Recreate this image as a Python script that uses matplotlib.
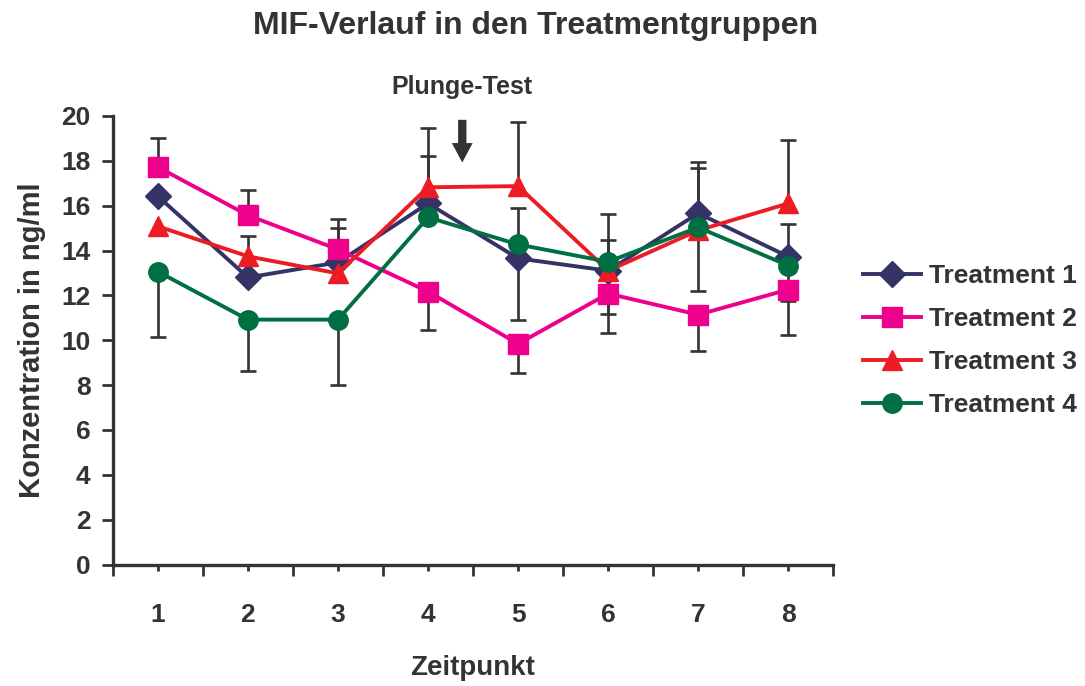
import numpy as np
from matplotlib import pyplot as plt

# MIF-Verlauf, Mittelwerte und Fehlerbalken
ZEITPUNKTE = [1, 2, 3, 4, 5, 6, 7, 8]
NAMEN = ["Treatment 1", "Treatment 2", "Treatment 3", "Treatment 4"]

T1 = [16.42, 12.8, 13.47, 16.1, 13.65, 13.1, 15.66, 13.73]
T2 = [17.72, 15.57, 14.05, 12.17, 9.84, 12.08, 11.14, 12.26]
T3 = [15.08, 13.74, 12.98, 16.82, 16.87, 13.1, 14.9, 16.1]
T4 = [13.06, 10.92, 10.92, 15.48, 14.27, 13.5, 15.03, 13.33]

# Fehler nach oben / unten (0 = kein Balken sichtbar)
T1_OBEN = [0, 1.83, 1.52, 2.11, 0, 1.35, 2.28, 1.44]
T1_UNTEN = [0, 0, 0, 0, 2.73, 1.93, 0, 1.96]
T2_OBEN = [1.3, 1.12, 1.34, 0, 0, 0, 0, 0]
T2_UNTEN = [0, 0, 0, 1.7, 1.29, 1.74, 1.61, 2.01]
T3_OBEN = [0, 0, 0, 2.64, 2.86, 2.52, 2.77, 2.83]
T3_UNTEN = [0, 0, 0, 0, 0, 0, 2.69, 0]
T4_OBEN = [0, 0, 0, 0, 1.61, 0, 0, 0]
T4_UNTEN = [2.9, 2.28, 2.91, 0, 0, 0, 0, 0]

FARBEN = ["#333366", "#EC008C", "#ED1C24", "#006F41"]
MARKER = ["D", "s", "^", "o"]
MSIZE = [13, 14, 14, 14]

TEXT = "#333333"


def fehlerbalken(ax, x, y, oben, unten):
    x = np.array(x, dtype=float)
    y = np.array(y, dtype=float)
    oben = np.array(oben, dtype=float)
    unten = np.array(unten, dtype=float)
    m = (oben > 0) | (unten > 0)
    ax.vlines(x[m], (y - unten)[m], (y + oben)[m], color="#333333", lw=1.9, zorder=2)
    o = oben > 0
    ax.plot(x[o], (y + oben)[o], ls="none", marker="_", ms=11, mew=1.9, color="#333333", zorder=2)
    u = unten > 0
    ax.plot(x[u], (y - unten)[u], ls="none", marker="_", ms=11, mew=1.9, color="#333333", zorder=2)


def plot():
    plt.rcParams["font.family"] = ["Liberation Sans", "DejaVu Sans"]
    plt.rcParams["font.weight"] = "bold"

    fig = plt.figure(figsize=(10.85, 6.86), dpi=100)
    ax = fig.add_axes([0.104, 0.177, 0.664, 0.654])

    reihen = [T1, T2, T3, T4]
    oben = [T1_OBEN, T2_OBEN, T3_OBEN, T4_OBEN]
    unten = [T1_UNTEN, T2_UNTEN, T3_UNTEN, T4_UNTEN]

    for i in range(4):
        fehlerbalken(ax, ZEITPUNKTE, reihen[i], oben[i], unten[i])

    for i in range(4):
        ax.plot(ZEITPUNKTE, reihen[i], color=FARBEN[i], lw=2.8, marker=MARKER[i],
                ms=MSIZE[i], mec=FARBEN[i], mfc=FARBEN[i], label=NAMEN[i], zorder=3 + i)

    ax.set_xlim(0.5, 8.5)
    ax.set_ylim(0, 20)
    ax.set_yticks(np.arange(0, 21, 2))
    ax.set_xticks(np.arange(0.5, 9, 1))
    ax.set_xticklabels([])
    ax.set_xticks(ZEITPUNKTE, minor=True)
    ax.set_xticklabels([str(z) for z in ZEITPUNKTE], minor=True)

    for s in ["top", "right"]:
        ax.spines[s].set_visible(False)
    for s in ["left", "bottom"]:
        ax.spines[s].set_color(TEXT)
        ax.spines[s].set_linewidth(2.4)

    ax.tick_params(axis="y", which="major", length=8, width=2, color=TEXT,
                   labelsize=19, labelcolor=TEXT, pad=8)
    ax.tick_params(axis="x", which="major", length=8, width=2, color=TEXT)
    ax.tick_params(axis="x", which="minor", length=4, width=2, color=TEXT,
                   labelsize=19, labelcolor=TEXT, pad=24)

    ax.set_ylabel("Konzentration in ng/ml", fontsize=21, fontweight="bold", color=TEXT, labelpad=11)
    ax.set_xlabel("Zeitpunkt", fontsize=20, fontweight="bold", color=TEXT, labelpad=20)

    fig.text(0.494, 0.962, "MIF-Verlauf in den Treatmentgruppen", ha="center", va="center",
             fontsize=23, fontweight="bold", color=TEXT)

    ax.annotate("", xy=(4.38, 17.8), xytext=(4.38, 19.95),
                arrowprops=dict(arrowstyle="simple,head_length=0.7,head_width=0.75,tail_width=0.3",
                                mutation_scale=20, color=TEXT, lw=0), annotation_clip=False)
    ax.text(4.38, 21.3, "Plunge-Test", ha="center", va="center", fontsize=18,
            fontweight="bold", color=TEXT)

    leg = ax.legend(loc="center left", bbox_to_anchor=(0.783, 0.504), bbox_transform=fig.transFigure,
                    frameon=False, fontsize=19, handlelength=2.2, handletextpad=0.3,
                    labelspacing=0.72, borderpad=0)
    for t in leg.get_texts():
        t.set_color(TEXT)

    plt.savefig("out.png", dpi=100)


if __name__ == "__main__":
    plot()
